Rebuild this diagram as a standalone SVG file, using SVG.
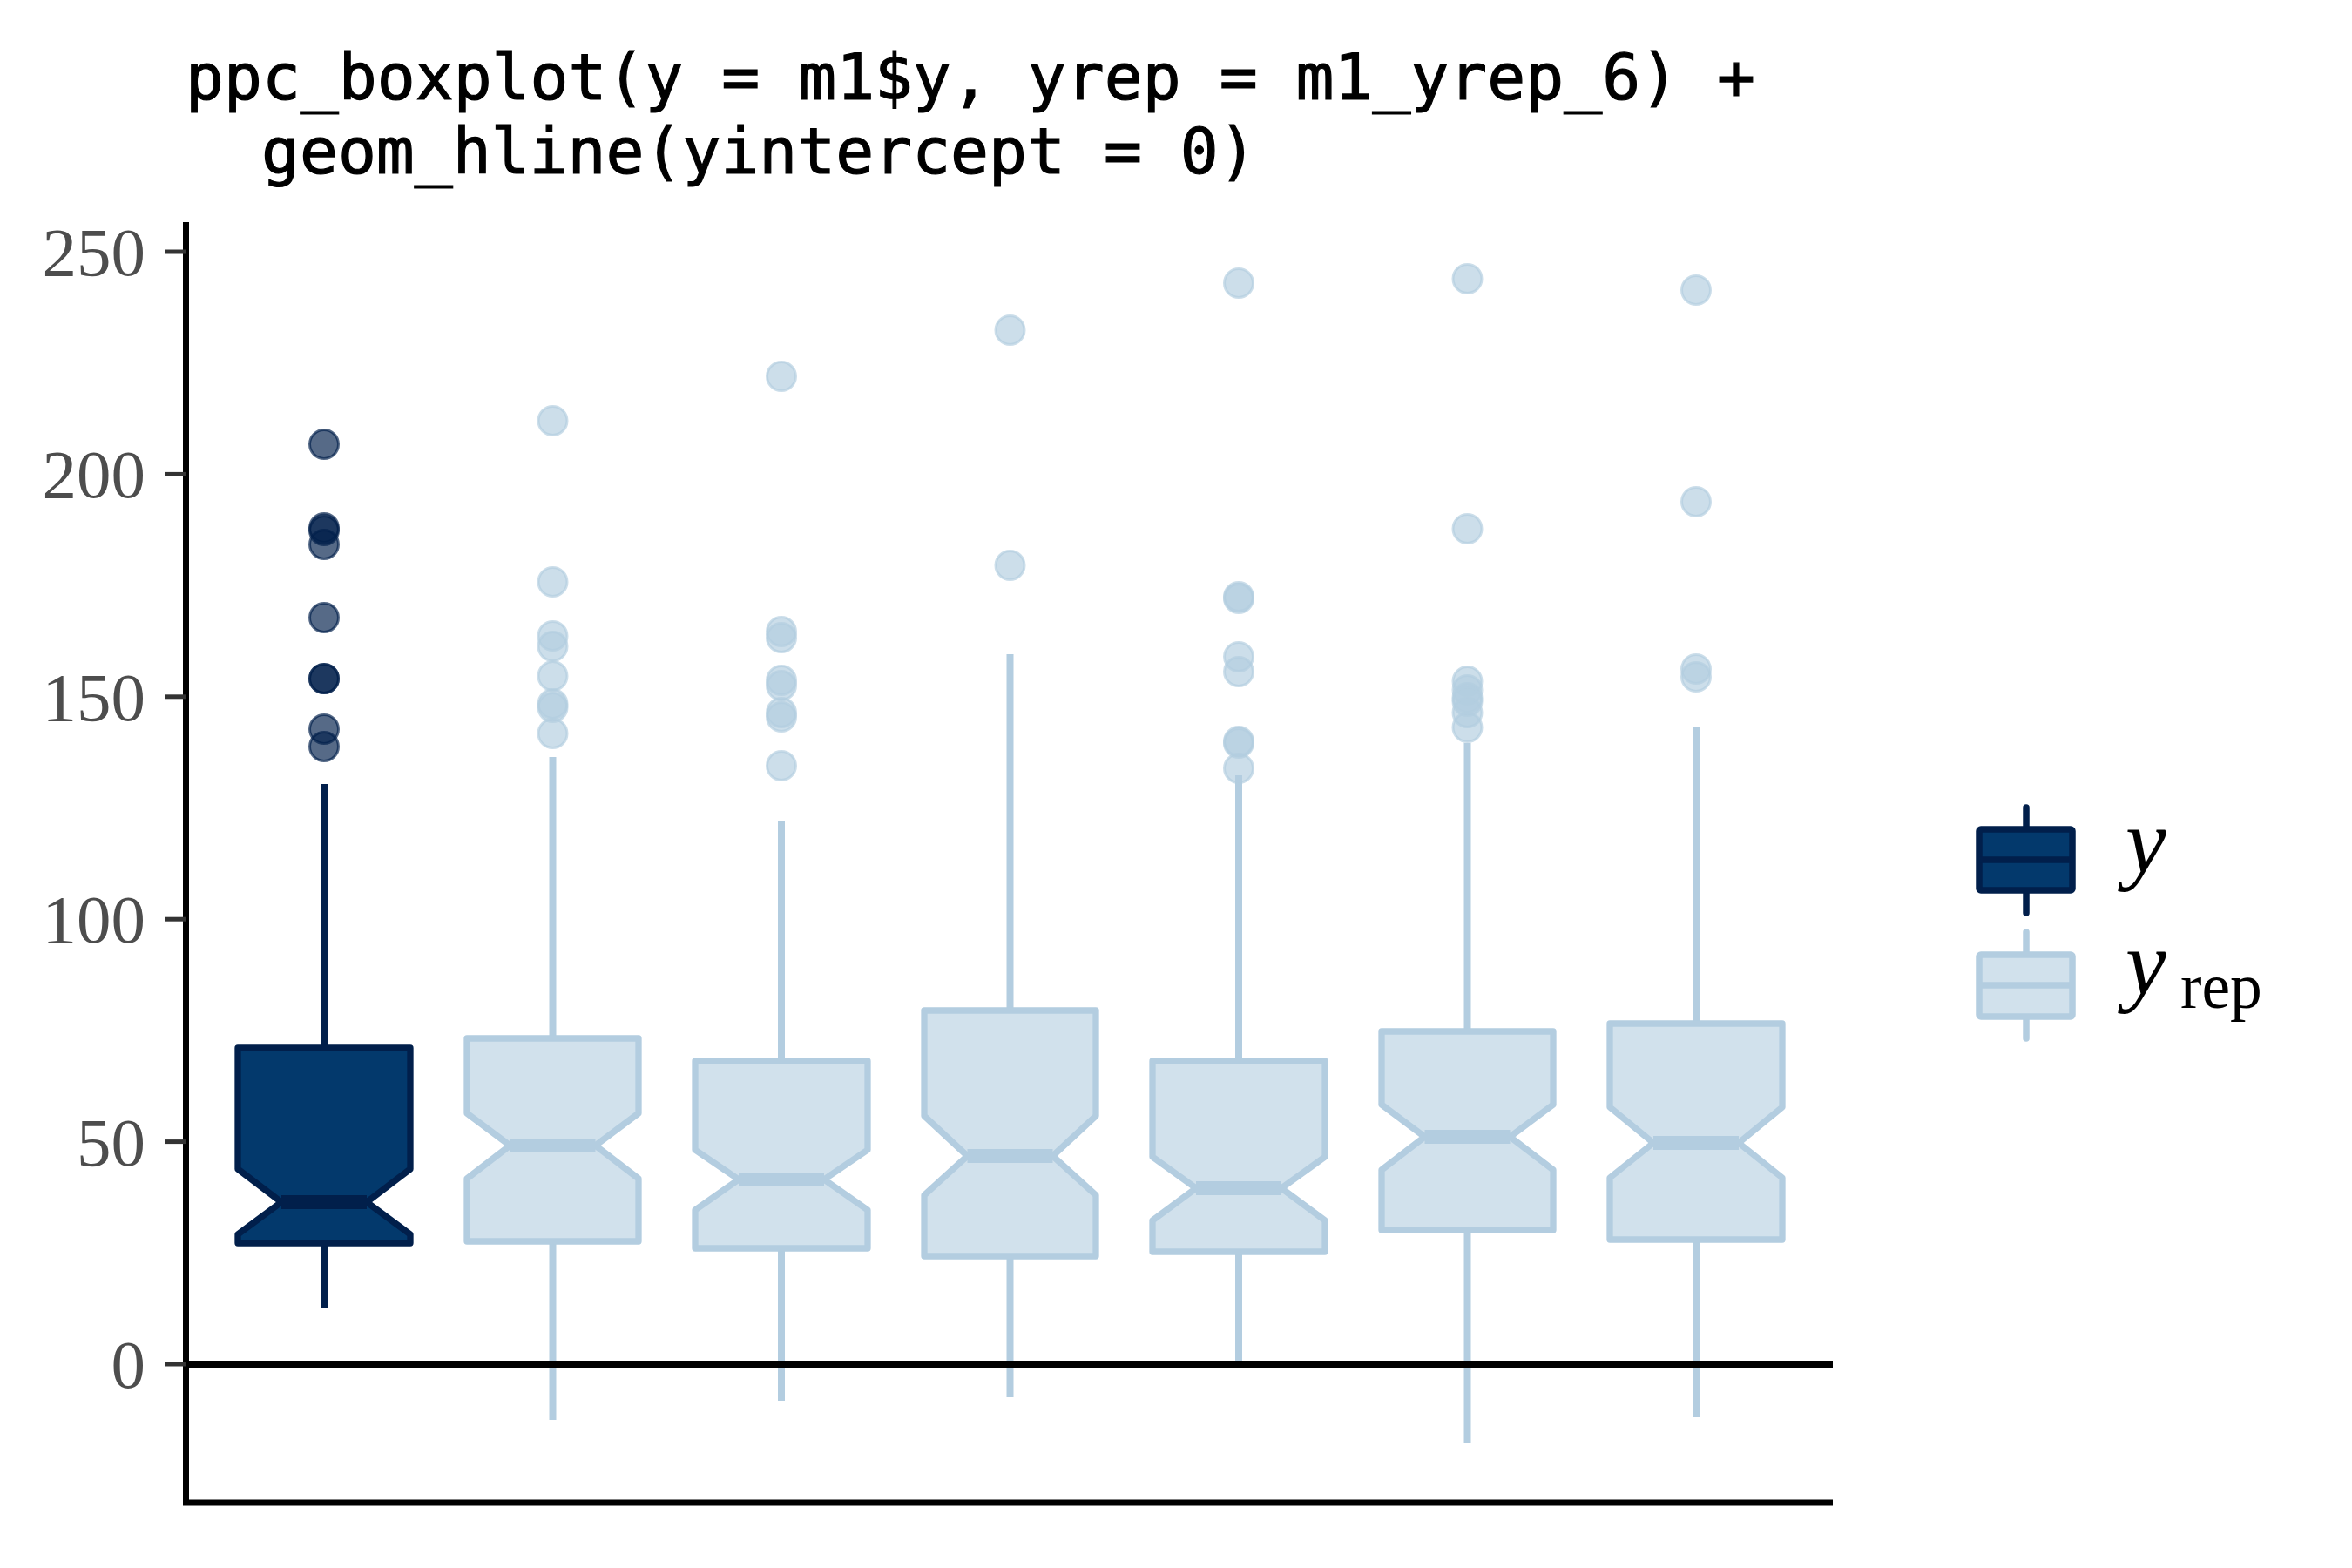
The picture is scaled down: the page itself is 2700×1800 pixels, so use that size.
<svg xmlns="http://www.w3.org/2000/svg" width="2700" height="1800" viewBox="0 0 2700 1800">
<style>
.title{font-family:"DejaVu Sans Mono","Liberation Mono",monospace;font-size:73px;fill:#000;stroke:#000;stroke-width:1.2}
.tick{font-family:"Liberation Serif","Times New Roman",serif;font-size:79px;fill:#4d4d4d;text-anchor:end}
.leg{font-family:"Liberation Serif","Times New Roman",serif;font-size:105px;font-style:italic;fill:#000}
.axis{stroke:#000;stroke-width:7;fill:none}
.tk{stroke:#333;stroke-width:5}
.ybox{fill:#03396c;stroke:#011f4b;stroke-width:7.3;stroke-linejoin:round}
.rbox{fill:#d1e1ec;stroke:#b3cde0;stroke-width:7.3;stroke-linejoin:round}
.ywh{stroke:#011f4b;stroke-width:8}
.rwh{stroke:#b3cde0;stroke-width:8}
.ymed{stroke:#011f4b;stroke-width:16}
.rmed{stroke:#b3cde0;stroke-width:16}
.yo{fill:#011f4b;fill-opacity:0.667;stroke:#011f4b;stroke-opacity:0.667;stroke-width:3}
.ro{fill:#b3cde0;fill-opacity:0.667;stroke:#b3cde0;stroke-opacity:0.667;stroke-width:3}
.lkey-y{fill:#03396c;stroke:#011f4b;stroke-width:7.5}
.lkey-r{fill:#d1e1ec;stroke:#b3cde0;stroke-width:7.5}
</style>
<rect width="2700" height="1800" fill="#fff"/>
<g id="title">
<text class="title" x="213" y="114">ppc_boxplot(y = m1$y, yrep = m1_yrep_6) +</text>
<text class="title" x="300" y="199">geom_hline(yintercept = 0)</text>
</g>
<g id="y-axis">
<line class="axis" x1="213.5" y1="255" x2="213.5" y2="1728"/>
<line class="tk" x1="189" y1="289" x2="213" y2="289"/>
<line class="tk" x1="189" y1="544.4" x2="213" y2="544.4"/>
<line class="tk" x1="189" y1="799.8" x2="213" y2="799.8"/>
<line class="tk" x1="189" y1="1055.2" x2="213" y2="1055.2"/>
<line class="tk" x1="189" y1="1310.6" x2="213" y2="1310.6"/>
<line class="tk" x1="189" y1="1566" x2="213" y2="1566"/>
<text class="tick" x="167" y="316">250</text>
<text class="tick" x="167" y="571.4">200</text>
<text class="tick" x="167" y="826.8">150</text>
<text class="tick" x="167" y="1082.2">100</text>
<text class="tick" x="167" y="1337.6">50</text>
<text class="tick" x="167" y="1593">0</text>
</g>
<g id="x-axis">
<line class="axis" x1="210" y1="1725" x2="2104" y2="1725"/>
</g>
<g id="box-y">
<line class="ywh" x1="372" y1="900" x2="372" y2="1502"/>
<polygon class="ybox" points="273,1203 471,1203 471,1342 421,1380 471,1417 471,1427 273,1427 273,1417 323,1380 273,1342"/>
<line class="ymed" x1="323" y1="1380" x2="421" y2="1380"/>
<circle class="yo" cx="372" cy="510" r="16.5"/>
<circle class="yo" cx="372" cy="606" r="16.5"/>
<circle class="yo" cx="372" cy="609" r="16.5"/>
<circle class="yo" cx="372" cy="625" r="16.5"/>
<circle class="yo" cx="372" cy="709" r="16.5"/>
<circle class="yo" cx="372" cy="779" r="16.5"/>
<circle class="yo" cx="372" cy="779" r="16.5"/>
<circle class="yo" cx="372" cy="837" r="16.5"/>
<circle class="yo" cx="372" cy="857" r="16.5"/>
</g>
<g id="box-yrep-1">
<line class="rwh" x1="634.5" y1="869" x2="634.5" y2="1630"/>
<polygon class="rbox" points="536,1192 733,1192 733,1278 683.5,1315 733,1353 733,1425 536,1425 536,1353 585.5,1315 536,1278"/>
<line class="rmed" x1="585.5" y1="1315" x2="683.5" y2="1315"/>
<circle class="ro" cx="634.5" cy="483" r="16.5"/>
<circle class="ro" cx="634.5" cy="668" r="16.5"/>
<circle class="ro" cx="634.5" cy="730" r="16.5"/>
<circle class="ro" cx="634.5" cy="742" r="16.5"/>
<circle class="ro" cx="634.5" cy="776" r="16.5"/>
<circle class="ro" cx="634.5" cy="808" r="16.5"/>
<circle class="ro" cx="634.5" cy="812" r="16.5"/>
<circle class="ro" cx="634.5" cy="842" r="16.5"/>
</g>
<g id="box-yrep-2">
<line class="rwh" x1="897" y1="943" x2="897" y2="1608"/>
<polygon class="rbox" points="798,1218 996,1218 996,1320 946,1354 996,1389 996,1433 798,1433 798,1389 848,1354 798,1320"/>
<line class="rmed" x1="848" y1="1354" x2="946" y2="1354"/>
<circle class="ro" cx="897" cy="432" r="16.5"/>
<circle class="ro" cx="897" cy="725" r="16.5"/>
<circle class="ro" cx="897" cy="732" r="16.5"/>
<circle class="ro" cx="897" cy="781" r="16.5"/>
<circle class="ro" cx="897" cy="787" r="16.5"/>
<circle class="ro" cx="897" cy="818" r="16.5"/>
<circle class="ro" cx="897" cy="823" r="16.5"/>
<circle class="ro" cx="897" cy="879" r="16.5"/>
</g>
<g id="box-yrep-3">
<line class="rwh" x1="1159.5" y1="751" x2="1159.5" y2="1604"/>
<polygon class="rbox" points="1061,1160 1258,1160 1258,1281 1208.5,1327 1258,1372 1258,1442 1061,1442 1061,1372 1110.5,1327 1061,1281"/>
<line class="rmed" x1="1110.5" y1="1327" x2="1208.5" y2="1327"/>
<circle class="ro" cx="1159.5" cy="379" r="16.5"/>
<circle class="ro" cx="1159.5" cy="649" r="16.5"/>
</g>
<g id="box-yrep-4">
<line class="rwh" x1="1422" y1="890" x2="1422" y2="1563"/>
<polygon class="rbox" points="1323,1218 1521,1218 1521,1328 1471,1364 1521,1401 1521,1437 1323,1437 1323,1401 1373,1364 1323,1328"/>
<line class="rmed" x1="1373" y1="1364" x2="1471" y2="1364"/>
<circle class="ro" cx="1422" cy="325" r="16.5"/>
<circle class="ro" cx="1422" cy="685" r="16.5"/>
<circle class="ro" cx="1422" cy="687" r="16.5"/>
<circle class="ro" cx="1422" cy="754" r="16.5"/>
<circle class="ro" cx="1422" cy="771" r="16.5"/>
<circle class="ro" cx="1422" cy="851" r="16.5"/>
<circle class="ro" cx="1422" cy="853" r="16.5"/>
<circle class="ro" cx="1422" cy="882" r="16.5"/>
</g>
<g id="box-yrep-5">
<line class="rwh" x1="1684.5" y1="853" x2="1684.5" y2="1657"/>
<polygon class="rbox" points="1586,1184 1783,1184 1783,1268 1733.5,1305 1783,1343 1783,1412 1586,1412 1586,1343 1635.5,1305 1586,1268"/>
<line class="rmed" x1="1635.5" y1="1305" x2="1733.5" y2="1305"/>
<circle class="ro" cx="1684.5" cy="320" r="16.5"/>
<circle class="ro" cx="1684.5" cy="607" r="16.5"/>
<circle class="ro" cx="1684.5" cy="782" r="16.5"/>
<circle class="ro" cx="1684.5" cy="792" r="16.5"/>
<circle class="ro" cx="1684.5" cy="801" r="16.5"/>
<circle class="ro" cx="1684.5" cy="805" r="16.5"/>
<circle class="ro" cx="1684.5" cy="818" r="16.5"/>
<circle class="ro" cx="1684.5" cy="835" r="16.5"/>
</g>
<g id="box-yrep-6">
<line class="rwh" x1="1947" y1="834" x2="1947" y2="1627"/>
<polygon class="rbox" points="1848,1175 2046,1175 2046,1271 1996,1312 2046,1352 2046,1423 1848,1423 1848,1352 1898,1312 1848,1271"/>
<line class="rmed" x1="1898" y1="1312" x2="1996" y2="1312"/>
<circle class="ro" cx="1947" cy="333" r="16.5"/>
<circle class="ro" cx="1947" cy="576" r="16.5"/>
<circle class="ro" cx="1947" cy="768" r="16.5"/>
<circle class="ro" cx="1947" cy="777" r="16.5"/>
</g>
<g id="hline-zero">
<line x1="213" y1="1566" x2="2104" y2="1566" stroke="#000" stroke-width="8"/>
</g>
<g id="legend">
<g id="legend-y">
<line x1="2326" y1="927" x2="2326" y2="1048" stroke="#011f4b" stroke-width="7.5" stroke-linecap="round"/>
<rect class="lkey-y" x="2272" y="952" width="107" height="70" rx="2"/>
<line x1="2272" y1="987" x2="2379" y2="987" stroke="#011f4b" stroke-width="7.5"/>
<text class="leg" x="2440" y="1001">y</text>
</g>
<g id="legend-yrep">
<line x1="2326" y1="1070" x2="2326" y2="1192" stroke="#b3cde0" stroke-width="7.5" stroke-linecap="round"/>
<rect class="lkey-r" x="2272" y="1096" width="107" height="71" rx="2"/>
<line x1="2272" y1="1131" x2="2379" y2="1131" stroke="#b3cde0" stroke-width="7.5"/>
<text class="leg" x="2440" y="1141">y<tspan x="2503" y="1157" font-size="73.5" font-style="normal">rep</tspan></text>
</g>
</g>
</svg>
